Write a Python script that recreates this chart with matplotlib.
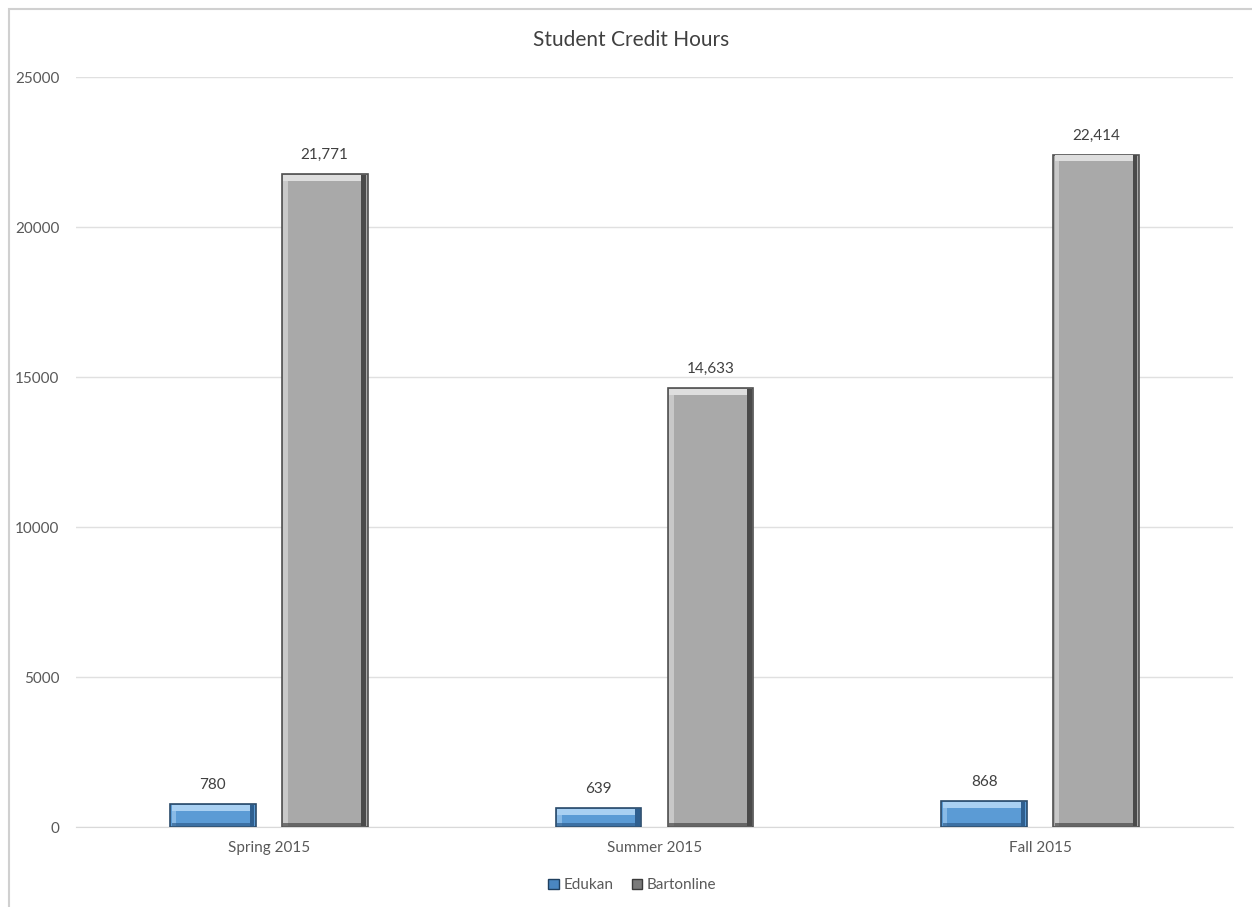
import matplotlib.pyplot as plt
import numpy as np
from matplotlib.patches import Rectangle

terms = ["Spring 2015", "Summer 2015", "Fall 2015"]
edukan = [780, 639, 868]
bartonline = [21771, 14633, 22414]
series_names = ["Edukan", "Bartonline"]

plt.rcParams['font.family'] = ['Lato', 'DejaVu Sans']

fig = plt.figure(figsize=(12.52, 9.07), dpi=100)
ax = fig.add_axes([0.0607, 0.0882, 0.924, 0.8269])

x = np.arange(len(terms))
w = 0.222
off = 0.145

b1 = ax.bar(x - off, edukan, w, color='#5b9bd5', edgecolor='#2a4a6a', linewidth=1.2, zorder=3)
b2 = ax.bar(x + off, bartonline, w, color='#a9a9a9', edgecolor='#505050', linewidth=1.2, zorder=3)

# fake bevel: light top + left, dark right + bottom
for bars, hi, lo in [(b1, '#a9d0f2', '#2f5f8f'), (b2, '#dedede', '#4a4a4a')]:
    for r in bars:
        h = r.get_height()
        x0, bw = r.get_x(), r.get_width()
        ax.add_patch(Rectangle((x0 + 0.004, h - 230), bw - 0.008, 200, color=hi, zorder=4, lw=0))
        ax.add_patch(Rectangle((x0 + 0.004, 30), 0.012, h - 260, color=hi, alpha=0.6, zorder=4, lw=0))
        ax.add_patch(Rectangle((x0 + bw - 0.016, 30), 0.012, h - 60, color=lo, zorder=4, lw=0))
        ax.add_patch(Rectangle((x0 + 0.004, 30), bw - 0.008, 90, color=lo, alpha=0.7, zorder=4, lw=0))

for bars, vals in [(b1, edukan), (b2, bartonline)]:
    for r, v in zip(bars, vals):
        ax.text(r.get_x() + r.get_width() / 2, v + 400, f"{v:,}", ha='center', va='bottom',
                fontsize=11, color='#404040')

ax.set_xlim(-0.5, 2.5)
ax.set_ylim(0, 25000)
ax.set_yticks(range(0, 25001, 5000))
ax.set_xticks(x)
ax.set_xticklabels(terms)
ax.tick_params(length=0, labelsize=11, labelcolor='#595959')
ax.tick_params(axis='y', pad=12)
ax.tick_params(axis='x', pad=10)
ax.grid(axis='y', color='#e0e0e0', lw=1, zorder=0)
for s in ['left', 'right', 'top']:
    ax.spines[s].set_visible(False)
ax.spines['bottom'].set_color('#d9d9d9')

fig.text(0.504, 0.956, "Student Credit Hours", ha='center', va='center', fontsize=15, color='#404040')

handles = [Rectangle((0, 0), 1, 1, fc='#4a86c0', ec='#1f3f5f'),
           Rectangle((0, 0), 1, 1, fc='#7a7a7a', ec='#3a3a3a')]
fig.legend(handles, series_names, loc='center', bbox_to_anchor=(0.505, 0.024), ncol=2,
           frameon=False, fontsize=11, handlelength=0.7, handleheight=0.7,
           handletextpad=0.3, columnspacing=1.2, labelcolor='#595959')

fig.add_artist(Rectangle((0.007, -0.01), 1.0, 1.0, transform=fig.transFigure,
                         fill=False, ec='#d0d0d0', lw=1.5))

fig.savefig("out.png", dpi=100)
